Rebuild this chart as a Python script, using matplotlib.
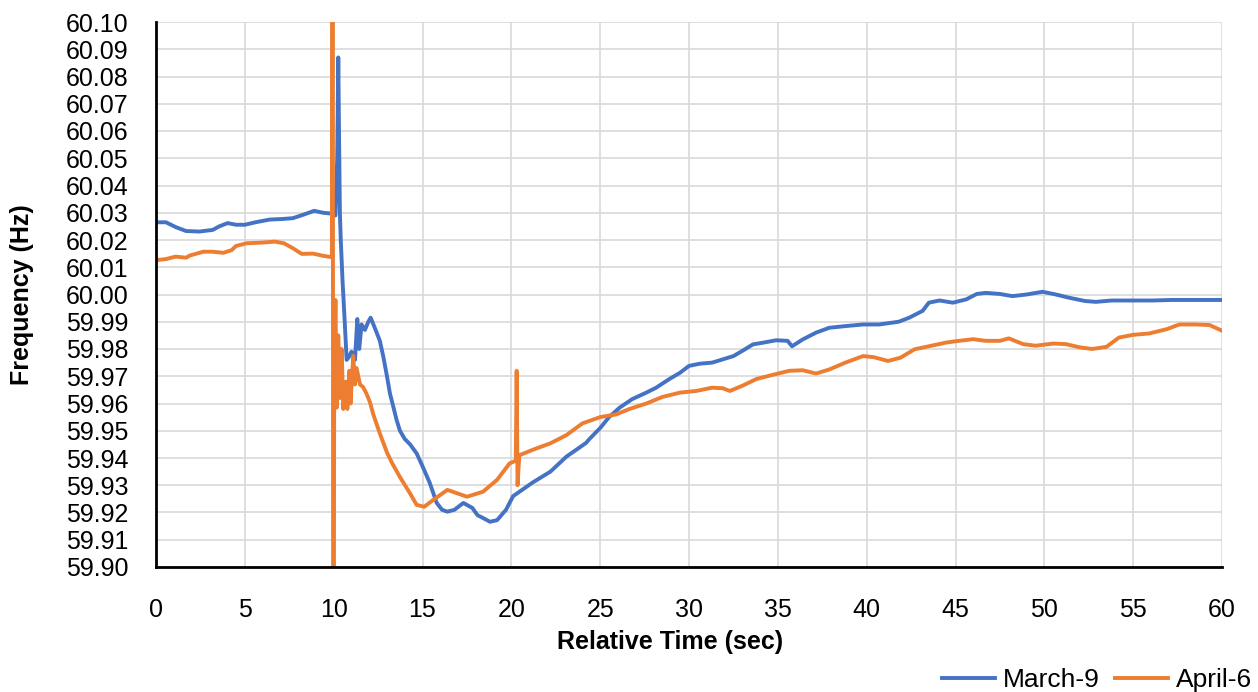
import matplotlib
matplotlib.use("Agg")
import matplotlib.pyplot as plt

# March-9 event (blue)
march_t = [0, 0.56, 1.12, 1.69, 2.44, 3.19, 3.56, 4.03, 4.5, 5.0, 5.6, 6.4, 7.1, 7.7, 8.3, 8.9,
           9.4, 9.86, 10.1, 10.2, 10.26, 10.3, 10.35, 10.4, 10.5, 10.63, 10.73, 10.85, 11.0, 11.1,
           11.2, 11.33, 11.44, 11.57, 11.76, 11.95, 12.08, 12.3, 12.6, 12.8, 13.0, 13.17, 13.35,
           13.54, 13.73, 14.0, 14.3, 14.67, 15.0, 15.4, 15.8, 16.1, 16.4, 16.8, 17.3, 17.8, 18.1,
           18.4, 18.8, 19.2, 19.7, 20.1, 21.2, 22.2, 23.1, 24.2, 24.4, 25.0, 25.5, 26.1, 26.8,
           27.6, 28.15, 28.9, 29.5, 30.0, 30.6, 31.3, 31.9, 32.5, 33.0, 33.6, 34.15, 34.9, 35.55,
           35.8, 36.4, 37.15, 37.9, 38.8, 39.8, 40.7, 41.8, 42.4, 43.15, 43.5, 44.1, 44.85, 45.6,
           46.2, 46.7, 47.5, 48.2, 49.0, 49.9, 50.65, 51.4, 52.3, 52.9, 53.8, 55.0, 56.1, 57.2,
           58.3, 59.3, 60.0]
march_f = [60.0265, 60.0265, 60.0247, 60.0233, 60.0231, 60.0237, 60.025, 60.0262, 60.0256, 60.0256,
           60.0265, 60.0275, 60.0277, 60.028, 60.0293, 60.0307, 60.030, 60.0297, 60.029, 60.05,
           60.087, 60.06, 60.03, 60.02, 60.005, 59.989, 59.976, 59.977, 59.979, 59.978, 59.976,
           59.991, 59.98, 59.989, 59.987, 59.990, 59.9915, 59.988, 59.983, 59.977, 59.970,
           59.9636, 59.959, 59.954, 59.950, 59.947, 59.945, 59.9417, 59.937, 59.931, 59.9235,
           59.921, 59.9203, 59.921, 59.9235, 59.9217, 59.919, 59.918, 59.9166, 59.9172, 59.921,
           59.926, 59.931, 59.935, 59.9405, 59.9455, 59.947, 59.951, 59.955, 59.9585, 59.9616,
           59.964, 59.9658, 59.969, 59.9713, 59.9738, 59.9746, 59.975, 59.9762, 59.9774, 59.9793,
           59.9817, 59.9823, 59.9832, 59.983, 59.981, 59.9835, 59.986, 59.9878, 59.9884, 59.989,
           59.989, 59.990, 59.9915, 59.994, 59.997, 59.9978, 59.997, 59.9982, 60.0002, 60.0006,
           60.0002, 59.9994, 60.0, 60.001, 60.0, 59.9988, 59.9976, 59.9973, 59.9978, 59.9978,
           59.9978, 59.998, 59.998, 59.998, 59.998]

# April-6 event (orange)
april_t = [0, 0.56, 1.1, 1.69, 1.9, 2.66, 3.2, 3.79, 4.26, 4.5, 5.1, 5.85, 6.7, 7.2, 7.7, 8.2,
           8.85, 9.4, 9.9, 9.94, 9.98, 10.03, 10.1, 10.17, 10.26, 10.35, 10.45, 10.54, 10.69,
           10.77, 10.88, 10.95, 11.1, 11.2, 11.29, 11.48, 11.66, 11.85, 12.04, 12.23, 12.6, 13.0,
           13.3, 13.73, 14.3, 14.67, 15.1, 15.6, 16.4, 17.5, 18.4, 19.2, 19.9, 20.25, 20.3, 20.35,
           20.45, 21.2, 22.2, 23.1, 24.0, 25.0, 25.9, 26.65, 27.6, 28.5, 29.5, 30.4, 31.3, 31.9,
           32.3, 33.0, 33.8, 34.7, 35.65, 36.4, 37.15, 37.9, 38.8, 39.8, 40.4, 41.2, 41.9, 42.7,
           43.5, 44.5, 45.2, 46.0, 46.7, 47.5, 48.0, 48.8, 49.5, 50.5, 51.2, 52.0, 52.7, 53.5,
           54.2, 55.0, 55.9, 56.9, 57.6, 58.5, 59.3, 60.0]
april_f = [60.0126, 60.013, 60.0139, 60.0135, 60.0143, 60.0157, 60.0157, 60.0153, 60.0163, 60.0178,
           60.0188, 60.019, 60.0194, 60.0188, 60.017, 60.0149, 60.015, 60.0142, 60.0137, 60.25,
           59.75, 59.97, 59.998, 59.9585, 59.985, 59.962, 59.98, 59.958, 59.968, 59.958, 59.972,
           59.96, 59.9775, 59.967, 59.973, 59.967, 59.966, 59.9636, 59.9605, 59.956, 59.949,
           59.942, 59.938, 59.933, 59.927, 59.9228, 59.9221, 59.9246, 59.9283, 59.9258, 59.9276,
           59.932, 59.938, 59.939, 59.972, 59.930, 59.941, 59.943, 59.9454, 59.9484, 59.9527,
           59.955, 59.956, 59.958, 59.960, 59.9624, 59.964, 59.9646, 59.9658, 59.9656, 59.9646,
           59.9665, 59.969, 59.9705, 59.972, 59.9722, 59.971, 59.9725, 59.975, 59.9774, 59.977,
           59.9756, 59.9768, 59.9799, 59.981, 59.9824, 59.983, 59.9836, 59.983, 59.983, 59.9839,
           59.9818, 59.9812, 59.982, 59.9818, 59.9806, 59.980, 59.9808, 59.9842, 59.9852,
           59.9857, 59.9873, 59.989, 59.989, 59.9888, 59.9867]

x_ticks = list(range(0, 61, 5))
y_ticks = [59.90 + 0.01 * i for i in range(21)]

plt.rcParams['font.family'] = ['Liberation Sans', 'DejaVu Sans']

fig = plt.figure(figsize=(12.58, 6.92), dpi=100)
ax = fig.add_axes([156 / 1258, 1 - 567 / 692, 1066 / 1258, 545 / 692])

ax.plot(march_t, march_f, color='#4472C4', lw=2.8, label='March-9')
ax.plot(april_t, april_f, color='#ED7D31', lw=2.8, label='April-6')

ax.set_xlim(0, 60)
ax.set_ylim(59.90, 60.10)
ax.set_xticks(x_ticks)
ax.set_yticks(y_ticks)
ax.set_yticklabels([f"{v:.2f}" for v in y_ticks])
ax.tick_params(axis='both', length=0, labelsize=18)
ax.tick_params(axis='x', pad=22)
ax.tick_params(axis='y', pad=20)

ax.grid(True, color='#D9D9D9', lw=1.2)
ax.set_axisbelow(True)
for s in ['top', 'right']:
    ax.spines[s].set_visible(False)
for s in ['left', 'bottom']:
    ax.spines[s].set_linewidth(2)
    ax.spines[s].set_color('black')

fig.text(22 / 1258, 1 - 295 / 692, 'Frequency (Hz)', rotation=90, ha='center', va='center',
         fontsize=18, fontweight='bold')
fig.text(670 / 1258, 1 - 642 / 692, 'Relative Time (sec)', ha='center', va='center',
         fontsize=18, fontweight='bold')

fig.legend(loc='center right', bbox_to_anchor=(1252 / 1258, 1 - 680 / 692), ncol=2,
           frameon=False, fontsize=19, handlelength=2.0, handletextpad=0.3,
           columnspacing=0.6, borderaxespad=0, borderpad=0)

fig.savefig('out.png', dpi=100)
